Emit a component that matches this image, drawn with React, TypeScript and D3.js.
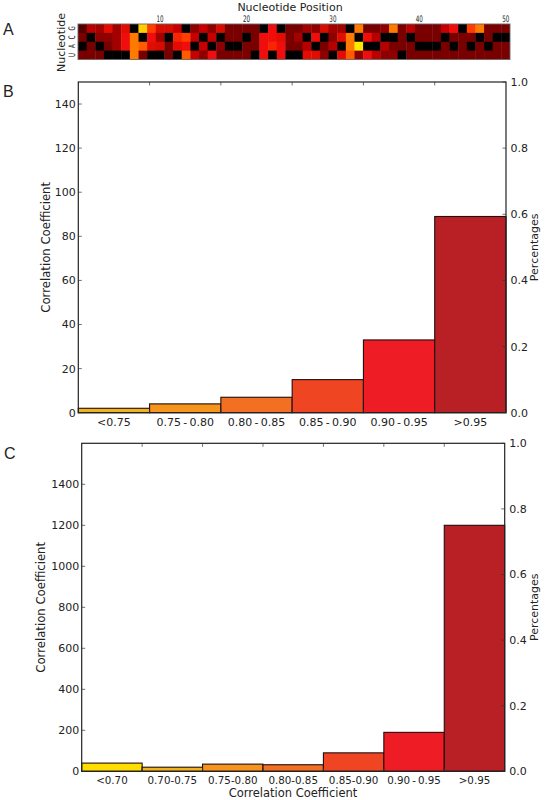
import React from 'react';
import * as d3 from 'd3';

const nucleotides = ['G', 'C', 'A', 'U'];
const rowG = [1.5,4,3.5,5.5,3.5,5.5,0,9.5,7,5,5,4.5,0,3,4.5,3,5,2.5,2.5,2.5,2.5,0,6,0,2.5,2.5,3.5,3,5,3.5,3.5,0,8,2.5,2.5,3,8,2.5,4,2.5,2.5,2.5,4.5,6,0,7,8,2.5,2.5,2.5];
const rowC = [2.5,0,3,3,3.5,6,8,0,6,3.5,0,6.5,7,4.5,0,4.5,0,2.5,2.5,0,2.5,6,6,5.5,2.5,3.5,0,6,0,3,5.5,8,0,6,4,0,0,2.5,0,2.5,2.5,2.5,0,2.5,2.5,2.5,0,2.5,0,0];
const rowA = [0,2.5,0,2.5,3.5,6,8,7.5,5.5,5,2.5,5.5,6,0,4.5,0,3,0,0,2.5,2.5,6,6.5,6,2.5,2.5,4,0,2.5,4,0,8,10,0,0,4,2.5,2.5,2.5,0,0,0,2.5,0,2.5,0,2.5,0,2.5,2.5];
const rowU = [2.5,2.5,2.5,0,0,0,8,2.5,0,0,2.5,0,7.5,4.5,3,6,2.5,2.5,2.5,2.5,0,6,0,6,0,0,5.5,5.5,3,0,5.5,7.5,3,6,4,3,3,0,2.5,2.5,2.5,2.5,2.5,2.5,2.5,2.5,2.5,2.5,2.5,2.5];
const heatRows = [rowG, rowC, rowA, rowU];
const heatTicks = [10, 20, 30, 40, 50];

const labelsB = ['<0.75', '0.75\u2009-\u20090.80', '0.80\u2009-\u20090.85', '0.85\u2009-\u20090.90', '0.90\u2009-\u20090.95', '>0.95'];
const valuesB = [2, 4, 7, 15, 33, 89];
const colorsB = ['#f2b21c', '#f7941d', '#f36f21', '#f04523', '#ee1c25', '#b92025'];
const ticksB = [0, 20, 40, 60, 80, 100, 120, 140];

const labelsC = ['<0.70', '0.70-0.75', '0.75-0.80', '0.80-0.85', '0.85-0.90', '0.90\u2009-\u20090.95', '>0.95'];
const valuesC = [40, 20, 35, 32, 90, 190, 1200];
const colorsC = ['#ffdd00', '#f2b21c', '#f7941d', '#f36f21', '#f04523', '#ee1c25', '#b92025'];
const ticksC = [0, 200, 400, 600, 800, 1000, 1200, 1400];
const ticksRight = [0, 0.2, 0.4, 0.6, 0.8, 1];

const FONT = '"DejaVu Sans"';
const hot = d3.scaleLinear<string>()
  .domain([0, 0.5, 2.5, 4, 6, 7, 8, 10])
  .range(['#000000', '#300000', '#7a0000', '#b80000', '#f01008', '#ff3c00', '#ff7a00', '#ffe800'])
  .clamp(true);

function Heatmap() {
  const x = d3.scaleBand<number>().domain(d3.range(50)).range([78, 510]);
  const y = d3.scaleBand<string>().domain(nucleotides).range([24, 59.5]);
  return (
    <g fontFamily={FONT} fill="#222">
      <defs>
        <filter id="soft" x="0" y="0" width="100%" height="100%"><feGaussianBlur stdDeviation="0.7" /></filter>
        <clipPath id="hm"><rect x={78} y={24} width={432} height={35.5} /></clipPath>
      </defs>
      <g clipPath="url(#hm)">
        <g filter="url(#soft)">
          {heatRows.map((row, r) => row.map((v, c) => (
            <rect key={`${r}-${c}`} x={x(c)} y={y(nucleotides[r])} width={x.bandwidth() + 0.4} height={y.bandwidth() + 0.4} fill={hot(v)} />
          )))}
        </g>
      </g>
      <rect x={78} y={24} width={432} height={35.5} fill="none" stroke="#666" strokeWidth={0.9} />
      {heatTicks.map(t => (
        <text key={t} fontSize={9} textAnchor="middle" transform={`translate(${x(t - 1)! + x.bandwidth() / 2},21.5) scale(0.62,1)`}>{t}</text>
      ))}
      {nucleotides.map(n => (
        <text key={n} fontSize={9} textAnchor="middle" transform={`translate(75,${y(n)! + y.bandwidth() / 2}) rotate(-90) scale(0.62,1)`}>{n}</text>
      ))}
      <text transform="translate(65,42.5) rotate(-90)" fontSize={11} textAnchor="middle">Nucleotide</text>
      <text x={290} y={11} fontSize={11} textAnchor="middle">Nucleotide Position</text>
    </g>
  );
}

type HistProps = {
  labels: string[]; values: number[]; colors: string[]; ticks: number[]; yMax: number;
  left: number; right: number; top: number; bottom: number; yTitleX: number; labelY: number; labelSize: number;
};

function Hist({ labels, values, colors, ticks, yMax, left, right, top, bottom, yTitleX, labelY, labelSize }: HistProps) {
  const x = d3.scaleBand<string>().domain(labels).range([left, right]);
  const y = d3.scaleLinear().domain([0, yMax]).range([bottom, top]);
  const yr = d3.scaleLinear().domain([0, 1]).range([bottom, top]);
  const mid = (top + bottom) / 2;
  return (
    <g fontFamily={FONT} fill="#222" fontSize={11}>
      {labels.map((l, i) => (
        <rect key={l} x={x(l)} y={y(values[i])} width={x.bandwidth()} height={bottom - y(values[i])} fill={colors[i]} stroke="#1f0f0f" strokeWidth={1.1} />
      ))}
      <rect x={left} y={top} width={right - left} height={bottom - top} fill="none" stroke="#222" strokeWidth={1.2} />
      {labels.slice(0, -1).map(l => {
        const px = x(l)! + x.bandwidth();
        return (
          <g key={l} stroke="#333" strokeWidth={0.7}>
            <line x1={px} x2={px} y1={top} y2={top + 3.5} />
            <line x1={px} x2={px} y1={bottom} y2={bottom - 3.5} />
          </g>
        );
      })}
      {ticks.map(t => (
        <g key={t}>
          <line x1={left} x2={left + 3.5} y1={y(t)} y2={y(t)} stroke="#333" strokeWidth={0.7} />
          <text x={left - 2.5} y={y(t)} dy="0.36em" textAnchor="end">{t}</text>
        </g>
      ))}
      {ticksRight.map(t => (
        <g key={t}>
          <line x1={right} x2={right - 3.5} y1={yr(t)} y2={yr(t)} stroke="#333" strokeWidth={0.7} />
          <text x={right + 4.5} y={yr(t)} dy="0.36em">{t.toFixed(1)}</text>
        </g>
      ))}
      {labels.map(l => (
        <text key={l} x={x(l)! + x.bandwidth() / 2} y={labelY} textAnchor="middle" fontSize={labelSize}>{l}</text>
      ))}
      <text transform={`translate(${yTitleX},${mid}) rotate(-90)`} textAnchor="middle" fontSize={11.7}>Correlation Coefficient</text>
      <text transform={`translate(537.5,${mid}) rotate(-90)`} textAnchor="middle">Percentages</text>
    </g>
  );
}

export default function App() {
  return (
    <svg width={545} height={800} style={{ position: 'absolute', left: 0, top: 0, background: '#fff' }}>
      <g fontFamily='"Liberation Sans"' fontSize={16} fill="#222">
        <text x={3} y={35}>A</text>
        <text x={3} y={97}>B</text>
        <text x={4} y={459}>C</text>
      </g>
      <Heatmap />
      <Hist labels={labelsB} values={valuesB} colors={colorsB} ticks={ticksB} yMax={150} left={78.3} right={506} top={82} bottom={412.7} yTitleX={50} labelY={426} labelSize={11} />
      <Hist labels={labelsC} values={valuesC} colors={colorsC} ticks={ticksC} yMax={1600} left={81.7} right={504.7} top={443.3} bottom={771.3} yTitleX={45} labelY={783.5} labelSize={10.3} />
      <text x={293} y={796.5} fontFamily={FONT} fontSize={11.5} fill="#222" textAnchor="middle">Correlation Coefficient</text>
    </svg>
  );
}
